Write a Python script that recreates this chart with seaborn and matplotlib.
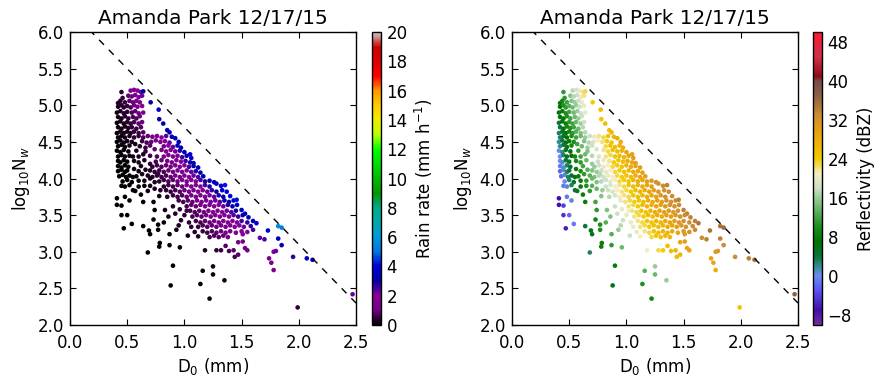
import pandas as pd
import matplotlib
matplotlib.use('Agg')
import matplotlib.pyplot as plt
import seaborn as sns
from matplotlib.colors import LinearSegmentedColormap, Normalize
from matplotlib.cm import ScalarMappable

# Values, one line per band of log10(Nw)
d0 = [
    0.45, 0.53, 0.56, 0.59, 0.62, 0.64,
    0.46, 0.51, 0.54, 0.57, 0.60, 0.63,
    0.42, 0.44, 0.48, 0.52, 0.55, 0.58, 0.61, 0.705,
    0.42, 0.45, 0.47, 0.50, 0.53, 0.56, 0.59, 0.63, 0.775,
    0.41, 0.44, 0.47, 0.50, 0.54, 0.57, 0.60, 0.64,
    0.42, 0.45, 0.48, 0.51, 0.55, 0.58, 0.61, 0.78,
    0.41, 0.44, 0.47, 0.50, 0.53, 0.56, 0.60, 0.63, 0.815,
    0.42, 0.45, 0.48, 0.51, 0.54, 0.58, 0.62,
    0.41, 0.44, 0.47, 0.50, 0.53, 0.56, 0.60, 0.64, 0.85, 0.87,
    0.42, 0.45, 0.48, 0.52, 0.56, 0.60, 0.64, 0.68, 0.72, 0.76, 0.80, 0.84, 0.89, 0.92,
    0.41, 0.44, 0.47, 0.50, 0.54, 0.57, 0.63, 0.67, 0.71, 0.75, 0.79, 0.83, 0.87, 0.95,
    0.42, 0.45, 0.48, 0.52, 0.61, 0.66, 0.70, 0.74, 0.82, 0.86, 0.90, 0.94, 0.97,
    0.41, 0.44, 0.47, 0.51, 0.58, 0.66, 0.80, 0.84, 0.88, 0.92, 0.96, 1.00, 1.05,
    0.42, 0.45, 0.48, 0.52, 0.55, 0.60, 0.64, 0.70, 0.76, 0.82, 0.86, 0.90, 0.94, 0.98, 1.02, 1.06,
    0.42, 0.44, 0.47, 0.50, 0.56, 0.65, 0.75, 0.80, 0.85, 0.89, 0.93, 0.97, 1.01, 1.05, 1.08,
    0.42, 0.45, 0.48, 0.51, 0.56, 0.60, 0.62, 0.70, 0.72, 0.76, 0.80, 0.84, 0.88, 0.92, 0.96, 1.00, 1.04, 1.08, 1.12,
    0.42, 0.45, 0.48, 0.50, 0.60, 0.66, 0.70, 0.74, 0.78, 0.82, 0.86, 0.90, 0.94, 0.98, 1.02, 1.06, 1.10, 1.14,
    0.43, 0.46, 0.49, 0.52, 0.55, 0.58, 0.63, 0.68, 0.72, 0.76, 0.77, 0.80, 0.84, 0.88, 0.92, 0.96, 1.00, 1.04, 1.08, 1.12, 1.165,
    0.46, 0.50, 0.54, 0.60, 0.65, 0.70, 0.74, 0.78, 0.82, 0.86, 0.90, 0.94, 0.98, 1.02, 1.06, 1.10, 1.14, 1.18, 1.22, 1.26,
    0.45, 0.48, 0.52, 0.60, 0.65, 0.70, 0.74, 0.82, 0.86, 0.90, 0.94, 0.98, 1.02, 1.06, 1.10, 1.14, 1.18, 1.22, 1.28, 1.32, 1.355,
    0.55, 0.57, 0.68, 0.79, 0.84, 0.88, 0.92, 0.96, 1.00, 1.04, 1.08, 1.12, 1.16, 1.20, 1.24, 1.28, 1.33, 1.37,
    0.62, 0.78, 0.85, 0.90, 0.94, 0.98, 1.02, 1.06, 1.10, 1.14, 1.18, 1.22, 1.26, 1.30, 1.34, 1.40,
    0.95, 0.99, 1.03, 1.07, 1.11, 1.15, 1.19, 1.23, 1.27, 1.31, 1.35, 1.39, 1.43, 1.457,
    0.90, 1.02, 1.06, 1.10, 1.14, 1.18, 1.22, 1.26, 1.30, 1.34, 1.38, 1.42, 1.46, 1.50,
    0.96, 1.02, 1.05, 1.09, 1.13, 1.17, 1.21, 1.25, 1.29, 1.33, 1.37, 1.41, 1.45, 1.53,
    0.92, 1.00, 1.07, 1.11, 1.15, 1.19, 1.23, 1.27, 1.31, 1.35, 1.39, 1.43, 1.47, 1.51, 1.56,
    0.97, 1.04, 1.10, 1.14, 1.18, 1.22, 1.26, 1.30, 1.34, 1.38, 1.42, 1.46, 1.50, 1.55, 1.60, 1.63,
    0.95, 1.06, 1.12, 1.16, 1.20, 1.24, 1.28, 1.32, 1.36, 1.40, 1.44, 1.48, 1.52, 1.58, 1.82, 1.85,
    1.09, 1.16, 1.20, 1.24, 1.28, 1.32, 1.36, 1.40, 1.45, 1.50, 1.55, 1.60, 1.73, 1.66, 1.70,
    1.03, 1.12, 1.22, 1.26, 1.30, 1.34, 1.38, 1.47, 1.51, 1.51, 1.53, 1.55,
    1.44, 1.47, 1.43, 1.39, 1.36, 1.28, 1.32, 1.18,
    1.74, 1.76, 1.78, 1.78, 1.80, 1.82, 1.85, 1.95, 2.07, 2.12, 2.47, 1.99,
    0.41, 0.48, 0.52, 0.41, 0.45, 0.45, 0.50, 0.47, 0.54, 0.64, 0.73, 0.74, 0.83, 0.86, 0.73, 0.82, 0.77, 0.64, 0.69, 0.70, 0.77, 0.87, 0.93,
    0.785, 0.78, 0.87, 0.96, 0.68, 0.90, 0.88, 1.25, 1.16, 1.14, 1.22, 1.25, 1.35,
]

log_nw = [
    5.18, 5.20, 5.21, 5.20, 5.18, 5.19,
    5.10, 5.13, 5.12, 5.14, 5.11, 5.13,
    5.03, 5.06, 5.04, 5.06, 5.04, 5.06, 5.04, 5.04,
    4.98, 5.00, 4.97, 4.99, 4.97, 5.00, 4.98, 4.99, 4.94,
    4.90, 4.92, 4.89, 4.91, 4.90, 4.92, 4.89, 4.90,
    4.84, 4.82, 4.85, 4.82, 4.84, 4.82, 4.85, 4.81,
    4.76, 4.78, 4.75, 4.77, 4.75, 4.77, 4.75, 4.77, 4.75,
    4.70, 4.68, 4.71, 4.69, 4.70, 4.68, 4.70,
    4.62, 4.64, 4.62, 4.64, 4.62, 4.64, 4.62, 4.63, 4.66, 4.63,
    4.56, 4.58, 4.56, 4.58, 4.56, 4.58, 4.56, 4.58, 4.57, 4.58, 4.56, 4.58, 4.57, 4.55,
    4.50, 4.52, 4.49, 4.51, 4.50, 4.47, 4.51, 4.49, 4.50, 4.52, 4.50, 4.51, 4.49, 4.50,
    4.44, 4.46, 4.43, 4.45, 4.44, 4.42, 4.45, 4.40, 4.44, 4.45, 4.43, 4.45, 4.42,
    4.38, 4.36, 4.39, 4.37, 4.38, 4.37, 4.39, 4.37, 4.39, 4.37, 4.38, 4.36, 4.33,
    4.30, 4.32, 4.30, 4.31, 4.30, 4.30, 4.33, 4.31, 4.30, 4.30, 4.32, 4.30, 4.31, 4.29, 4.31, 4.28,
    4.24, 4.22, 4.25, 4.23, 4.24, 4.25, 4.23, 4.25, 4.24, 4.22, 4.25, 4.23, 4.24, 4.22, 4.21,
    4.17, 4.15, 4.18, 4.16, 4.13, 4.22, 4.17, 4.20, 4.16, 4.18, 4.16, 4.18, 4.16, 4.18, 4.16, 4.18, 4.16, 4.17, 4.15,
    4.10, 4.12, 4.09, 4.11, 4.10, 4.12, 4.11, 4.09, 4.11, 4.09, 4.11, 4.09, 4.11, 4.09, 4.11, 4.09, 4.10, 4.08,
    4.03, 4.05, 4.02, 4.04, 4.02, 4.03, 4.06, 4.04, 4.02, 4.04, 4.06, 4.02, 4.04, 4.02, 4.04, 4.02, 4.04, 4.02, 4.04, 4.02, 4.03,
    3.96, 3.98, 3.95, 3.97, 3.97, 4.00, 3.95, 3.96, 3.98, 3.96, 3.98, 3.96, 3.98, 3.96, 3.98, 3.96, 3.98, 3.96, 3.97, 3.95,
    3.90, 3.89, 3.91, 3.89, 3.90, 3.90, 3.86, 3.89, 3.91, 3.89, 3.91, 3.89, 3.91, 3.89, 3.91, 3.89, 3.91, 3.89, 3.93, 3.90, 3.91,
    3.84, 3.83, 3.83, 3.84, 3.84, 3.82, 3.84, 3.82, 3.84, 3.82, 3.84, 3.82, 3.84, 3.82, 3.84, 3.82, 3.84, 3.82,
    3.78, 3.76, 3.75, 3.77, 3.75, 3.77, 3.75, 3.77, 3.75, 3.77, 3.75, 3.77, 3.75, 3.77, 3.75, 3.76,
    3.70, 3.68, 3.70, 3.68, 3.70, 3.68, 3.70, 3.68, 3.70, 3.68, 3.70, 3.68, 3.70, 3.71,
    3.62, 3.62, 3.64, 3.62, 3.64, 3.62, 3.64, 3.62, 3.64, 3.62, 3.64, 3.62, 3.64, 3.57,
    3.58, 3.56, 3.56, 3.54, 3.56, 3.54, 3.56, 3.54, 3.56, 3.54, 3.56, 3.54, 3.56, 3.52,
    3.52, 3.50, 3.48, 3.50, 3.48, 3.50, 3.48, 3.50, 3.48, 3.50, 3.48, 3.50, 3.48, 3.50, 3.47,
    3.43, 3.40, 3.42, 3.40, 3.42, 3.40, 3.42, 3.40, 3.42, 3.40, 3.42, 3.40, 3.42, 3.40, 3.42, 3.39,
    3.36, 3.34, 3.34, 3.36, 3.34, 3.36, 3.34, 3.36, 3.34, 3.36, 3.34, 3.36, 3.34, 3.35, 3.35, 3.33,
    3.27, 3.28, 3.26, 3.28, 3.26, 3.28, 3.26, 3.28, 3.26, 3.28, 3.27, 3.30, 3.29, 3.19, 3.17,
    3.22, 3.21, 3.20, 3.22, 3.20, 3.22, 3.20, 3.13, 3.14, 3.24, 3.05, 3.02,
    2.93, 2.96, 3.02, 3.01, 3.08, 3.02, 3.02, 3.02,
    2.91, 2.85, 2.75, 3.00, 3.01, 3.18, 3.09, 2.93, 2.91, 2.89, 2.42, 2.24,
    3.73, 3.75, 3.70, 3.64, 3.63, 3.50, 3.50, 3.32, 3.38, 3.68, 3.68, 3.57, 3.57, 3.48, 3.44, 3.40, 3.37, 3.35, 3.29, 3.24, 3.30, 3.24, 3.30,
    3.12, 3.07, 3.09, 3.06, 2.99, 2.81, 2.54, 2.80, 2.74, 2.56, 2.36, 2.69, 2.61,
]

rain_rate = [
    0.4, 1.15, 1.5, 1.9, 2.3, 3.2,
    0.48, 0.8, 1.05, 1.4, 1.7, 2.2,
    0.26, 0.35, 0.5, 0.76, 0.95, 1.26, 1.5, 3.0,
    0.23, 0.34, 0.39, 0.54, 0.68, 0.94, 1.15, 1.6, 3.7,
    0.17, 0.25, 0.32, 0.45, 0.63, 0.85, 1.0, 1.4,
    0.17, 0.22, 0.32, 0.4, 0.6, 0.73, 1.0, 2.9,
    0.13, 0.18, 0.23, 0.33, 0.41, 0.55, 0.73, 0.96, 3.1,
    0.12, 0.16, 0.23, 0.3, 0.4, 0.53, 0.76,
    0.09, 0.13, 0.17, 0.24, 0.3, 0.41, 0.54, 0.75, 3.0, 3.2,
    0.09, 0.13, 0.17, 0.25, 0.34, 0.49, 0.63, 0.89, 1.1, 1.5, 1.8, 2.4, 3.0, 3.4,
    0.07, 0.1, 0.13, 0.18, 0.25, 0.3, 0.52, 0.67, 0.9, 1.2, 1.5, 1.9, 2.3, 3.5,
    0.07, 0.1, 0.12, 0.19, 0.39, 0.54, 0.75, 0.87, 1.5, 2.0, 2.3, 3.0, 3.2,
    0.05, 0.07, 0.1, 0.14, 0.26, 0.48, 1.2, 1.5, 1.9, 2.2, 2.8, 3.2, 3.8,
    0.05, 0.07, 0.09, 0.14, 0.17, 0.26, 0.37, 0.55, 0.78, 1.1, 1.4, 1.7, 2.1, 2.5, 3.2, 3.5,
    0.04, 0.05, 0.07, 0.09, 0.16, 0.34, 0.63, 0.88, 1.15, 1.35, 1.7, 2.1, 2.6, 2.9, 3.3,
    0.04, 0.05, 0.07, 0.09, 0.13, 0.21, 0.22, 0.42, 0.44, 0.59, 0.72, 0.93, 1.1, 1.45, 1.7, 2.1, 2.5, 3.0, 3.4,
    0.03, 0.04, 0.06, 0.07, 0.16, 0.27, 0.34, 0.43, 0.57, 0.69, 0.9, 1.07, 1.35, 1.6, 2.0, 2.3, 2.8, 3.1,
    0.03, 0.04, 0.05, 0.07, 0.09, 0.12, 0.19, 0.26, 0.32, 0.43, 0.49, 0.52, 0.68, 0.81, 1.05, 1.2, 1.55, 1.8, 2.2, 2.5, 3.1,
    0.03, 0.05, 0.07, 0.12, 0.18, 0.27, 0.31, 0.4, 0.53, 0.63, 0.82, 0.96, 1.2, 1.4, 1.8, 2.0, 2.5, 2.8, 3.3, 3.7,
    0.03, 0.04, 0.05, 0.1, 0.15, 0.21, 0.25, 0.43, 0.56, 0.67, 0.85, 1.0, 1.25, 1.4, 1.8, 2.0, 2.5, 2.8, 3.6, 3.9, 4.2,
    0.06, 0.07, 0.16, 0.32, 0.43, 0.51, 0.66, 0.77, 0.98, 1.12, 1.4, 1.6, 1.95, 2.2, 2.7, 3.0, 3.7, 4.0,
    0.09, 0.26, 0.37, 0.51, 0.59, 0.76, 0.87, 1.1, 1.25, 1.5, 1.7, 2.1, 2.3, 2.8, 3.1, 3.9,
    0.56, 0.65, 0.81, 0.93, 1.15, 1.3, 1.6, 1.8, 2.2, 2.4, 2.9, 3.2, 3.8, 4.2,
    0.36, 0.65, 0.81, 0.92, 1.15, 1.3, 1.55, 1.7, 2.1, 2.3, 2.8, 3.0, 3.6, 3.5,
    0.45, 0.56, 0.64, 0.73, 0.91, 1.02, 1.25, 1.4, 1.7, 1.85, 2.2, 2.4, 2.9, 3.4,
    0.32, 0.45, 0.59, 0.72, 0.82, 1.0, 1.12, 1.37, 1.5, 1.8, 2.0, 2.4, 2.6, 3.1, 3.3,
    0.33, 0.43, 0.58, 0.66, 0.81, 0.9, 1.1, 1.2, 1.45, 1.6, 1.9, 2.1, 2.5, 2.7, 3.3, 3.4,
    0.26, 0.41, 0.52, 0.65, 0.72, 0.88, 0.98, 1.18, 1.3, 1.55, 1.7, 2.0, 2.2, 2.7, 5.6, 5.3,
    0.39, 0.54, 0.6, 0.74, 0.81, 0.98, 1.08, 1.3, 1.45, 1.8, 2.0, 2.5, 3.6, 2.3, 2.5,
    0.27, 0.39, 0.56, 0.69, 0.76, 0.91, 1.0, 1.15, 1.35, 1.7, 1.15, 1.15,
    0.66, 0.78, 0.79, 0.68, 0.71, 0.47, 0.54, 0.33,
    1.5, 1.4, 1.2, 2.1, 2.2, 3.5, 3.1, 2.7, 3.4, 3.6, 2.2, 0.4,
    0.01, 0.03, 0.03, 0.01, 0.015, 0.01, 0.02, 0.01, 0.02, 0.08, 0.15, 0.13, 0.22, 0.21, 0.09, 0.14, 0.1, 0.04, 0.05, 0.05, 0.08, 0.13, 0.2,
    0.06, 0.05, 0.09, 0.13, 0.02, 0.06, 0.03, 0.25, 0.15, 0.09, 0.08, 0.19, 0.23,
]

reflectivity = [
    11, 17, 19, 20, 22, 23,
    11, 15, 17, 18, 20, 22,
    8, 9, 12, 15, 16, 18, 20, 24,
    7, 10, 11, 13, 14, 16, 18, 20, 26,
    6, 8, 10, 12, 14, 16, 18, 20,
    6, 8, 10, 12, 14, 16, 18, 25,
    4, 7, 8, 11, 12, 14, 16, 18, 26,
    4, 6, 9, 10, 12, 14, 17,
    3, 5, 7, 9, 11, 13, 15, 17, 26, 27,
    3, 5, 7, 10, 12, 14, 16, 18, 20, 22, 23, 25, 27, 28,
    2, 4, 6, 8, 10, 12, 15, 17, 19, 21, 22, 24, 25, 28,
    2, 4, 6, 9, 14, 16, 18, 19, 23, 25, 26, 27, 28,
    0, 2, 5, 7, 11, 15, 22, 23, 25, 26, 27, 29, 30,
    0, 3, 5, 7, 9, 12, 14, 17, 19, 22, 23, 25, 26, 27, 29, 30,
    0, 1, 4, 5, 9, 14, 18, 20, 22, 24, 25, 26, 28, 29, 30,
    -1, 1, 3, 5, 8, 11, 12, 16, 16, 18, 20, 21, 23, 24, 25, 27, 28, 29, 30,
    -2, 1, 3, 4, 10, 13, 15, 16, 18, 20, 21, 23, 24, 25, 27, 28, 29, 30,
    -2, 1, 3, 5, 6, 8, 11, 13, 15, 17, 17, 18, 20, 21, 23, 24, 25, 26, 28, 29, 30,
    0, 3, 5, 8, 11, 14, 15, 17, 18, 20, 21, 23, 24, 25, 27, 28, 29, 30, 31, 32,
    -1, 1, 3, 8, 10, 13, 14, 18, 19, 21, 22, 23, 25, 26, 27, 28, 29, 30, 32, 33, 34,
    4, 5, 11, 16, 18, 19, 21, 22, 23, 24, 26, 27, 28, 29, 30, 31, 32, 33,
    8, 15, 17, 19, 21, 22, 23, 25, 26, 27, 28, 29, 30, 31, 32, 33,
    20, 22, 23, 24, 25, 26, 28, 28, 30, 30, 32, 32, 33, 34,
    18, 22, 23, 24, 26, 27, 28, 29, 30, 31, 32, 32, 33, 34,
    20, 21, 22, 23, 25, 25, 27, 28, 29, 30, 31, 31, 32, 34,
    18, 20, 22, 23, 24, 26, 26, 28, 28, 30, 30, 31, 32, 33, 34,
    18, 20, 22, 23, 25, 25, 27, 27, 28, 29, 30, 31, 32, 33, 34, 35,
    17, 20, 22, 23, 24, 25, 26, 27, 28, 29, 30, 31, 32, 33, 35, 36,
    20, 22, 23, 25, 26, 27, 27, 28, 29, 31, 32, 33, 35, 33, 34,
    18, 21, 23, 25, 25, 27, 27, 29, 30, 31, 29, 29,
    26, 27, 27, 26, 26, 23, 24, 21,
    29, 29, 28, 31, 31, 34, 33, 33, 34, 35, 37, 25,
    -7, -1, 1, -7, -4, -5, -2, -6, -1, 8, 12, 11, 15, 15, 9, 13, 10, 4, 6, 6, 10, 13, 16,
    8, 8, 11, 14, 3, 8, 6, 16, 13, 10, 9, 14, 16,
]

# reference line drawn on both panels
line_d0 = [0.0, 2.5]
line_nw = [6.3, 2.3]

site_title = 'Amanda Park 12/17/15'
rain_ticks = list(range(0, 21, 2))
dbz_ticks = list(range(-8, 49, 8))

assert len(d0) == len(log_nw) == len(rain_rate) == len(reflectivity)
df = pd.DataFrame({'d0': d0, 'lognw': log_nw, 'rain': rain_rate, 'dbz': reflectivity})

# reflectivity colour table (purple-blue-green-white-yellow-brown-red)
refl_colors = [
    (-10, (0.47, 0.17, 0.62)), (-7, (0.25, 0.06, 0.65)), (-3, (0.35, 0.33, 0.95)),
    (0, (0.42, 0.55, 0.95)), (2, (0.20, 0.55, 0.55)), (4, (0.04, 0.45, 0.22)),
    (7, (0.0, 0.45, 0.0)), (10, (0.10, 0.56, 0.10)), (14, (0.42, 0.72, 0.42)),
    (18, (0.80, 0.88, 0.78)), (21, (0.96, 0.93, 0.76)), (24, (0.95, 0.80, 0.0)),
    (29, (0.92, 0.65, 0.05)), (33, (0.80, 0.55, 0.20)), (37, (0.56, 0.38, 0.25)),
    (40, (0.45, 0.30, 0.30)), (41, (0.55, 0.05, 0.10)), (45, (0.82, 0.18, 0.28)),
    (50, (1.0, 0.10, 0.20)),
]
refl_cmap = LinearSegmentedColormap.from_list(
    'refl', [((v + 10) / 60.0, c) for v, c in refl_colors])
rain_cmap = plt.get_cmap('nipy_spectral')

sns.set_style('ticks', {'xtick.direction': 'in', 'ytick.direction': 'in',
                        'xtick.top': True, 'ytick.right': True,
                        'axes.edgecolor': 'black', 'xtick.color': 'black',
                        'ytick.color': 'black', 'text.color': 'black',
                        'axes.labelcolor': 'black'})
plt.rcParams.update({'font.size': 12, 'axes.titlesize': 14.4, 'axes.labelsize': 12,
                     'xtick.labelsize': 12, 'ytick.labelsize': 12,
                     'axes.linewidth': 1.0, 'xtick.major.size': 4.5,
                     'ytick.major.size': 4.5, 'xtick.major.pad': 6.5,
                     'ytick.major.pad': 4.5, 'font.family': ['DejaVu Sans']})

fig = plt.figure(figsize=(8.86, 3.86), dpi=100)
W, H = 886.0, 386.0
ax1 = fig.add_axes([70 / W, 61 / H, 286 / W, 293 / H])
cax1 = fig.add_axes([372 / W, 61 / H, 9 / W, 293 / H])
ax2 = fig.add_axes([512 / W, 61 / H, 286 / W, 293 / H])
cax2 = fig.add_axes([813 / W, 61 / H, 9 / W, 293 / H])


def draw_panel(ax, cax, col, cmap, norm, ticks, label):
    sns.scatterplot(data=df, x='d0', y='lognw', hue=col, palette=cmap,
                    hue_norm=norm, s=11, linewidth=0, legend=False, ax=ax)
    ax.plot(line_d0, line_nw, color='black', lw=1, dashes=(5, 5))
    ax.set_xlim(0, 2.5)
    ax.set_ylim(2, 6)
    ax.set_xticks([0, 0.5, 1.0, 1.5, 2.0, 2.5])
    ax.set_yticks([2, 2.5, 3, 3.5, 4, 4.5, 5, 5.5, 6])
    ax.xaxis.set_major_formatter('{x:.1f}')
    ax.yaxis.set_major_formatter('{x:.1f}')
    ax.set_xlabel('D$_0$ (mm)', labelpad=3)
    ax.set_ylabel('log$_{10}$N$_w$')
    ax.set_title(site_title)
    cb = fig.colorbar(ScalarMappable(norm=norm, cmap=cmap), cax=cax, ticks=ticks)
    cb.set_label(label)
    cb.outline.set_linewidth(1.0)
    cax.tick_params(direction='in', length=4.5, right=True, left=False, pad=4)


draw_panel(ax1, cax1, 'rain', rain_cmap, Normalize(0, 20), rain_ticks,
           'Rain rate (mm h$^{-1}$)')
draw_panel(ax2, cax2, 'dbz', refl_cmap, Normalize(-10, 50), dbz_ticks,
           'Reflectivity (dBZ)')

fig.savefig('out.png', dpi=100, facecolor='white')
